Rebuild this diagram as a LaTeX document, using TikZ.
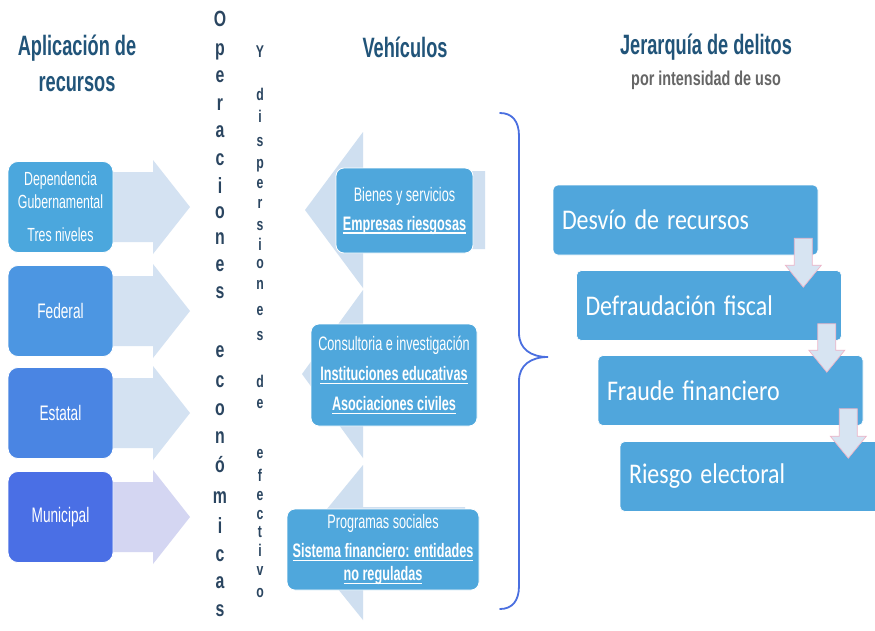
\documentclass[tikz,border=0pt]{standalone}
\usepackage{fontspec}
\usepackage{graphicx}
\setmainfont{Liberation Sans}[FakeStretch=0.65]
\newfontfamily\subfont{Liberation Sans}[FakeStretch=0.72]
\newfontfamily\vertfont{Liberation Sans}[FakeStretch=0.72]
\newfontfamily\calib{Carlito}
\newcommand\myul[1]{\setbox0\hbox{#1}\rlap{\vrule width \wd0 height -2.4pt depth 3.6pt}\box0}
\newcommand\narrowc[1]{\scalebox{0.84}[1]{#1}}
\usetikzlibrary{calc}
\definecolor{hdrc}{HTML}{215479}
\definecolor{vtxt}{HTML}{2A4560}
\definecolor{subc}{HTML}{666666}
\definecolor{lb1}{HTML}{4BA7DD}
\definecolor{lb2}{HTML}{4C96E2}
\definecolor{lb3}{HTML}{4A85E3}
\definecolor{lb4}{HTML}{4A6FE5}
\definecolor{arrc}{HTML}{D4E2F2}
\definecolor{arrl}{HTML}{D4D6F2}
\definecolor{marr}{HTML}{CFDFF0}
\definecolor{mbox}{HTML}{4FA7DC}
\definecolor{rbox}{HTML}{50A6DC}
\definecolor{darrf}{HTML}{D7E4F2}
\definecolor{darrd}{HTML}{EDB5C8}
\definecolor{bracec}{HTML}{4A6FE0}
\begin{document}
\begin{tikzpicture}[x=1pt,y=-1pt,
  hdr/.style={font=\fontsize{28}{36}\selectfont\bfseries, text=hdrc, align=center, inner sep=0pt},
  lbox/.style={rounded corners=10pt, draw=white, line width=0.8pt, minimum width=105pt, minimum height=91pt, text=white, align=center, inner sep=0pt},
  mboxs/.style={rounded corners=8pt, draw=white, line width=0.8pt, fill=mbox, text=white, align=center, inner sep=0pt, font=\fontsize{19.5}{29}\selectfont},
  rboxs/.style={rounded corners=5pt, draw=white, line width=0.6pt, fill=rbox, text=white, align=left, inner xsep=9pt, inner ysep=0pt, text width=247pt, minimum height=70pt, font=\calib\fontsize{28.5}{32}\selectfont},
  vla/.style={font=\vertfont\fontsize{22}{22}\selectfont\bfseries, text=vtxt, inner sep=0pt, anchor=base},
  vlb/.style={font=\vertfont\fontsize{17}{17}\selectfont\bfseries, text=vtxt, inner sep=0pt, anchor=base},
  darr/.style={fill=darrf, draw=darrd, line width=0.7pt},
  brace/.style={draw=bracec, line width=1.8pt, line cap=round}
]
\useasboundingbox (0,0) rectangle (875,630);
\clip (0,0) rectangle (875,630);
\fill[white] (0,0) rectangle (875,630);

% headers
\node[hdr] (h1) at (77,63) {Aplicación de\\recursos};
\node[hdr] (h2) at (405,47) {Vehículos};
\node[hdr] (h3) at (706,47) {Jerarquía de delitos};
\node[font=\subfont\fontsize{20}{20}\selectfont\bfseries, text=subc, inner sep=0pt] (h4) at (706,80) {por intensidad de uso};

% left arrows
\foreach \yc/\col in {207/arrc,311/arrc,413/arrc,517/arrl}{
  \fill[\col] (100,\yc-35) -- (153,\yc-35) -- (153,\yc-47) -- (190,\yc) -- (153,\yc+47) -- (153,\yc+35) -- (100,\yc+35) -- cycle;
}
% left boxes
\node[lbox, fill=lb1, font=\fontsize{19}{23}\selectfont] (dep) at (60.5,207) {Dependencia\\Gubernamental\\[10pt]Tres niveles};
\node[lbox, fill=lb2, font=\fontsize{21}{23}\selectfont] (fed) at (60.5,311) {Federal};
\node[lbox, fill=lb3, font=\fontsize{21}{23}\selectfont] (est) at (60.5,413) {Estatal};
\node[lbox, fill=lb4, font=\fontsize{21}{23}\selectfont] (mun) at (60.5,517) {Municipal};

% vertical texts
\foreach \ch/\yy [count=\k] in {O/26,p/55,e/82,r/110,a/137,c/165,i/193,o/218,n/244,e/271,s/298,e/357,c/387,o/415,n/443,ó/472,m/503,i/533,c/561,a/588,s/616}{
  \node[vla] (op\k) at (220,\yy) {\ch};
}
\foreach \ch/\yy [count=\k] in {Y/57,d/100,i/122,s/146,p/168,e/188,r/208,s/230,i/250,o/268,n/289,e/315,s/340,d/387,e/408,e/458,f/481,e/500,c/519,t/537,i/556,v/575,o/597}{
  \node[vlb] (yd\k) at (260,\yy) {\ch};
}

% middle arrows
\fill[marr] (305,210) -- (363,132) -- (363,171) -- (485,171) -- (485,249) -- (363,249) -- (363,288) -- cycle;
\fill[marr] (302,374) -- (363,290) -- (363,332) -- (470,332) -- (470,416) -- (363,416) -- (363,458) -- cycle;
\fill[marr] (300,542) -- (363,465) -- (363,507) -- (465,507) -- (465,577) -- (363,577) -- (363,620) -- cycle;

% middle boxes
\node[mboxs, minimum width=137pt, minimum height=85pt] (v1) at (404.5,210.5)
  {Bienes y servicios\\\myul{\textbf{Empresas riesgosas}}};
\node[mboxs, minimum width=166pt, minimum height=102pt, font=\fontsize{19.5}{30}\selectfont] (v2) at (394,375)
  {Consultoria e investigación\\\myul{\textbf{Instituciones educativas}}\\\myul{\textbf{Asociaciones civiles}}};
\node[mboxs, minimum width=192pt, minimum height=81pt, font=\fontsize{19.5}{23}\selectfont] (v3) at (383,549.5)
  {Programas sociales\\[6pt]\myul{\textbf{Sistema financiero: entidades}}\\\myul{\textbf{no reguladas}}};

% brace
\draw[brace] (500,113) .. controls (512,113) and (519,121) .. (519,136) -- (519,333)
  .. controls (519,349) and (531,357) .. (548,357)
  .. controls (531,357) and (519,365) .. (519,381) -- (519,586)
  .. controls (519,601) and (512,609) .. (500,609);

% right boxes
\node[rboxs] (r1) at (685.5,220) {\narrowc{Desvío de recursos}};
\node[rboxs] (r2) at (709,305.5) {\narrowc{Defraudación fiscal}};
\node[rboxs] (r3) at (730.5,390.5) {\narrowc{Fraude financiero}};
\node[rboxs] (r4) at (752.5,476.5) {\narrowc{Riesgo electoral}};

% down arrows
\foreach \a/\b in {r1/r2,r2/r3,r3/r4}{
  \path[darr] let \p1=($(\a.south east)+(-15,-17)$), \p2=($(\a.south east |- \b.north)+(-15,17)$) in
    (\x1-9pt,\y1) -- (\x1+9pt,\y1) -- (\x1+9pt,\y2+22pt) -- (\x1+18pt,\y2+22pt) -- (\x1,\y2)
    -- (\x1-18pt,\y2+22pt) -- (\x1-9pt,\y2+22pt) -- cycle;
}
\end{tikzpicture}
\end{document}
